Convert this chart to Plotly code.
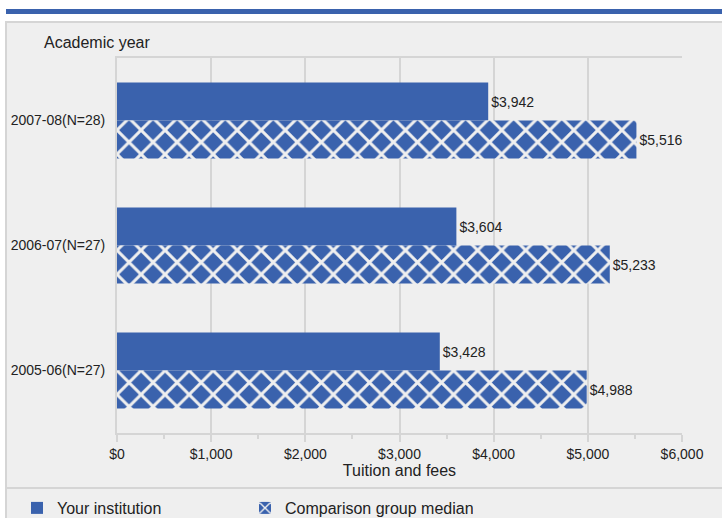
import plotly.graph_objects as go

# Tuition and fees by academic year
years = ["2005-06(N=27)", "2006-07(N=27)", "2007-08(N=28)"]
institution = [3428, 3604, 3942]
comparison_median = [4988, 5233, 5516]
tick_values = [0, 1000, 2000, 3000, 4000, 5000, 6000]
tick_labels = ["$0", "$1,000", "$2,000", "$3,000", "$4,000", "$5,000", "$6,000"]

W, H = 722, 518
L, R, T, B = 117, 40, 58, 85
PW, PH = W - L - R, H - T - B

BLUE = "#3a62ad"
PANEL = "#efefef"
RULE = "#d5d5d5"
FONT = "Liberation Sans, Arial, sans-serif"
TEXT = "#222222"


def fx(px):
    return (px - L) / PW


def fy(py):
    return (H - B - py) / PH


BAR_W = 0.304

fig = go.Figure()
fig.add_trace(go.Bar(
    name="Your institution",
    y=years, x=institution, orientation="h",
    width=BAR_W, offset=0,
    marker=dict(color=BLUE, line=dict(width=0)),
    texttemplate="$%{x:,.0f}", textposition="outside",
    textfont=dict(size=14, color=TEXT, family=FONT),
    cliponaxis=False, hoverinfo="skip",
))
fig.add_trace(go.Bar(
    name="Comparison group median",
    y=years, x=comparison_median, orientation="h",
    width=BAR_W, offset=-BAR_W,
    marker=dict(color=BLUE, line=dict(width=0),
                pattern=dict(shape="x", size=17, solidity=0.32,
                             fgcolor=PANEL, bgcolor=BLUE, fgopacity=1,
                             fillmode="replace")),
    texttemplate="$%{x:,.0f}", textposition="outside",
    textfont=dict(size=14, color=TEXT, family=FONT),
    cliponaxis=False, hoverinfo="skip",
))

shapes = [
    # grey panel behind the chart
    dict(type="rect", xref="paper", yref="paper", layer="below",
         x0=fx(6), x1=fx(740), y0=fy(22), y1=fy(540),
         fillcolor=PANEL, line=dict(color=RULE, width=2)),
    # blue header band
    dict(type="rect", xref="paper", yref="paper", layer="below",
         x0=fx(6), x1=fx(740), y0=fy(9), y1=fy(14),
         fillcolor=BLUE, line=dict(width=0)),
    # separator above the legend
    dict(type="line", xref="paper", yref="paper", layer="below",
         x0=fx(6), x1=fx(740), y0=fy(488), y1=fy(488),
         line=dict(color=RULE, width=2)),
]

fig.update_layout(
    width=W, height=H,
    margin=dict(l=L, r=R, t=T, b=B, pad=0, autoexpand=False),
    paper_bgcolor="white", plot_bgcolor=PANEL,
    font=dict(family=FONT, color=TEXT, size=14),
    barmode="overlay",
    shapes=shapes,
    showlegend=True,
    legend=dict(orientation="h", x=fx(17), y=fy(508),
                xanchor="left", yanchor="middle",
                font=dict(size=16, family=FONT, color=TEXT),
                bgcolor="rgba(0,0,0,0)", entrywidth=183,
                traceorder="normal"),
    annotations=[dict(text="Academic year", xref="paper", yref="paper",
                      x=fx(42), y=fy(42), xanchor="left", yanchor="middle",
                      showarrow=False, font=dict(size=16, family=FONT, color=TEXT))],
    xaxis=dict(
        range=[0, 6000], tickvals=tick_values, ticktext=tick_labels,
        showgrid=True, gridcolor=RULE, gridwidth=2,
        zeroline=False, automargin=False,
        showline=True, linecolor=RULE, linewidth=2, mirror=True,
        ticks="outside", ticklen=7, tickwidth=2, tickcolor=RULE,
        minor=dict(dtick=500, ticks="outside", ticklen=4, tickwidth=2,
                   tickcolor=RULE, showgrid=False),
        tickfont=dict(size=14, family=FONT, color=TEXT),
        title=dict(text="Tuition and fees", standoff=4,
                   font=dict(size=16, family=FONT, color=TEXT)),
    ),
    yaxis=dict(
        categoryorder="array", categoryarray=years,
        range=[-0.5, 2.5], automargin=False,
        showgrid=False, zeroline=False,
        showline=True, linecolor=RULE, linewidth=2,
        ticks="", ticklabelstandoff=7,
        tickfont=dict(size=14, family=FONT, color=TEXT),
    ),
)

fig.write_html("out.html")
